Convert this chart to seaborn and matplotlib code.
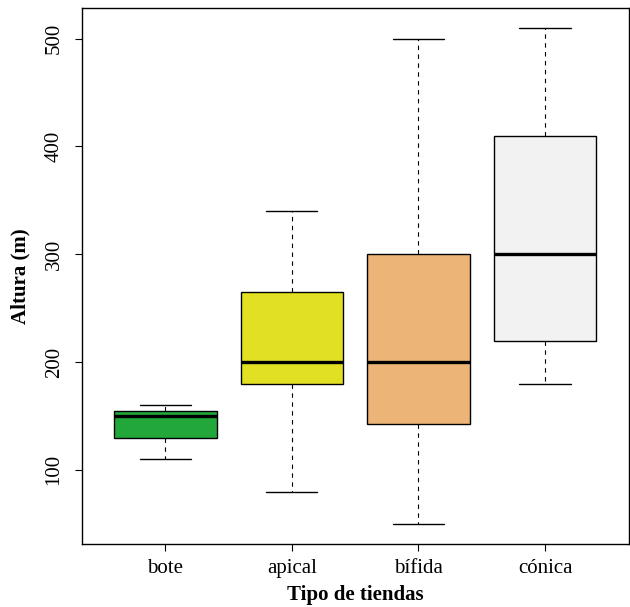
import numpy as np
import pandas as pd
import matplotlib
matplotlib.use("Agg")
import matplotlib.pyplot as plt
import seaborn as sns

# valores (mín, Q1, mediana, Q3, máx)
categorias = ["bote", "apical", "bífida", "cónica"]
bote = [110, 130, 150, 155, 160]
apical = [80, 180, 200, 265, 340]
bifida = [50, 143, 200, 300, 500]
conica = [180, 220, 300, 410, 510]
colores = ["#22A83A", "#E2E022", "#EDB478", "#F2F2F2"]

df = pd.DataFrame({
    "tipo": np.repeat(categorias, 5),
    "altura": bote + apical + bifida + conica,
})

sns.set_style("white")
plt.rcParams["font.family"] = ["Liberation Serif", "DejaVu Serif"]
plt.rcParams.update({"text.color": "black", "axes.labelcolor": "black",
                     "xtick.color": "black", "ytick.color": "black"})

fig = plt.figure(figsize=(6.3, 6.07), dpi=100, facecolor="white")
ax = fig.add_axes([0.1297, 0.1043, 0.868, 0.8825])

sns.boxplot(
    data=df, x="tipo", y="altura", hue="tipo", order=categorias,
    hue_order=categorias, palette=colores, legend=False, saturation=1,
    width=0.81, whis=np.inf, ax=ax,
    boxprops=dict(edgecolor="black", linewidth=1.0),
    medianprops=dict(color="black", linewidth=2.4),
    whiskerprops=dict(color="black", linewidth=0.8, linestyle=(0, (4, 4))),
    capprops=dict(color="black", linewidth=1.0),
)

ax.set_xlim(-0.66, 3.66)
ax.set_ylim(31.6, 528.4)
ax.set_yticks([100, 200, 300, 400, 500])

for s in ax.spines.values():
    s.set_visible(True)
    s.set_color("black")
    s.set_linewidth(1.0)

ax.tick_params(axis="both", which="major", direction="out", length=5,
               width=0.8, colors="black", labelsize=15, left=True, bottom=True)
ax.tick_params(axis="x", pad=6)
ax.tick_params(axis="y", pad=8)
for lab in ax.get_yticklabels():
    lab.set_rotation(90)
    lab.set_va("center")

ax.set_xlabel("Tipo de tiendas", fontsize=15, fontweight="bold", labelpad=5)
ax.set_ylabel("Altura (m)", fontsize=15, fontweight="bold", labelpad=10)

fig.savefig("out.png", dpi=100, facecolor="white")
